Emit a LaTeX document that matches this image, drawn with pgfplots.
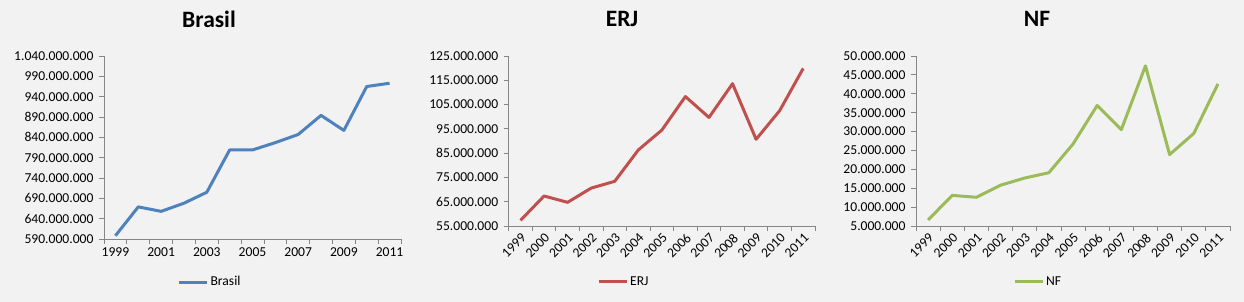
\documentclass[border=0pt]{standalone}
\usepackage{pgfplots}
\pgfplotsset{compat=1.18}
\usepackage{fontspec}
\setmainfont{Carlito}
\definecolor{bg}{HTML}{F2F2F2}
\definecolor{axgray}{HTML}{868686}
\definecolor{cBR}{HTML}{4F81BD}
\definecolor{cERJ}{HTML}{C0504D}
\definecolor{cNF}{HTML}{9BBB59}
\pgfplotsset{
  panel/.style={
    scale only axis,
    anchor=south west,
    axis lines=left,
    axis line style={draw=axgray, line width=0.8pt, -},
    tick style={draw=axgray, line width=0.8pt},
    tick align=outside,
    major tick length=5pt,
    minor tick length=5pt,
    major x tick style={draw=none},
    xmin=-0.5, xmax=12.5,
    minor xtick={-0.5,0.5,...,12.5},
    scaled y ticks=false,
    clip=false,
    /pgf/number format/.cd, fixed, precision=0, 1000 sep={.}, assume math mode=true,
    /pgfplots/.cd,
    tick label style={font=\fontsize{13.6}{15}\selectfont, text=black},
    yticklabel style={xshift=-2pt},
    title style={font=\fontsize{23.5}{26}\selectfont\bfseries, anchor=center},
    legend style={draw=none, fill=none, anchor=center, font=\fontsize{13.6}{15}\selectfont,
      inner sep=0pt, /tikz/every even column/.append style={column sep=0pt}},
    legend image code/.code={\draw[##1] (0pt,0pt) -- (28pt,0pt);},
    every axis plot/.append style={line width=3pt, line join=round, mark=none},
  },
}
\begin{document}
\begin{tikzpicture}
\path[use as bounding box, fill=bg] (0,0) rectangle (1244pt,302pt);
% Brasil
\begin{axis}[panel,
  at={(104pt,63pt)}, width=297pt, height=183pt,
  ymin=590000000, ymax=1040000000,
  ytick={590000000,640000000,690000000,740000000,790000000,840000000,890000000,940000000,990000000,1040000000},
  xtick={0,2,...,12}, xticklabels={1999,2001,2003,2005,2007,2009,2011},
  title={Brasil}, title style={at={(0.3535,1.169)}},
  legend style={at={(0.357,-0.235)}},
]
\addplot[cBR] coordinates {
(0,598000000) (1,669000000) (2,658000000) (3,678000000) (4,705000000)
(5,809000000) (6,809000000) (7,827000000) (8,847000000) (9,894000000)
(10,857000000) (11,965000000) (12,973000000)};
\addlegendentry{Brasil}
\end{axis}
% ERJ
\begin{axis}[panel,
  at={(508.7pt,76pt)}, width=306.3pt, height=170pt,
  ymin=55000000, ymax=125000000,
  ytick={55000000,65000000,75000000,85000000,95000000,105000000,115000000,125000000},
  xtick={0,...,12}, xticklabels={1999,2000,2001,2002,2003,2004,2005,2006,2007,2008,2009,2010,2011},
  xticklabel style={rotate=45, anchor=north east, inner sep=1pt},
  title={ERJ}, title style={at={(0.370,1.182)}},
  legend style={at={(0.376,-0.329)}},
]
\addplot[cERJ] coordinates {
(0,57300000) (1,67350000) (2,64750000) (3,70600000) (4,73400000)
(5,86300000) (6,94500000) (7,108300000) (8,99700000) (9,113600000)
(10,90700000) (11,102500000) (12,119900000)};
\addlegendentry{ERJ}
\end{axis}
% NF
\begin{axis}[panel,
  at={(916pt,76pt)}, width=314pt, height=170pt,
  ymin=5000000, ymax=50000000,
  ytick={5000000,10000000,15000000,20000000,25000000,30000000,35000000,40000000,45000000,50000000},
  xtick={0,...,12}, xticklabels={1999,2000,2001,2002,2003,2004,2005,2006,2007,2008,2009,2010,2011},
  xticklabel style={rotate=45, anchor=north east, inner sep=1pt},
  title={NF}, title style={at={(0.385,1.182)}},
  legend style={at={(0.389,-0.329)}},
]
\addplot[cNF] coordinates {
(0,6600000) (1,13100000) (2,12600000) (3,15800000) (4,17700000)
(5,19100000) (6,26700000) (7,36900000) (8,30500000) (9,47400000)
(10,23900000) (11,29500000) (12,42600000)};
\addlegendentry{NF}
\end{axis}
\end{tikzpicture}
\end{document}
